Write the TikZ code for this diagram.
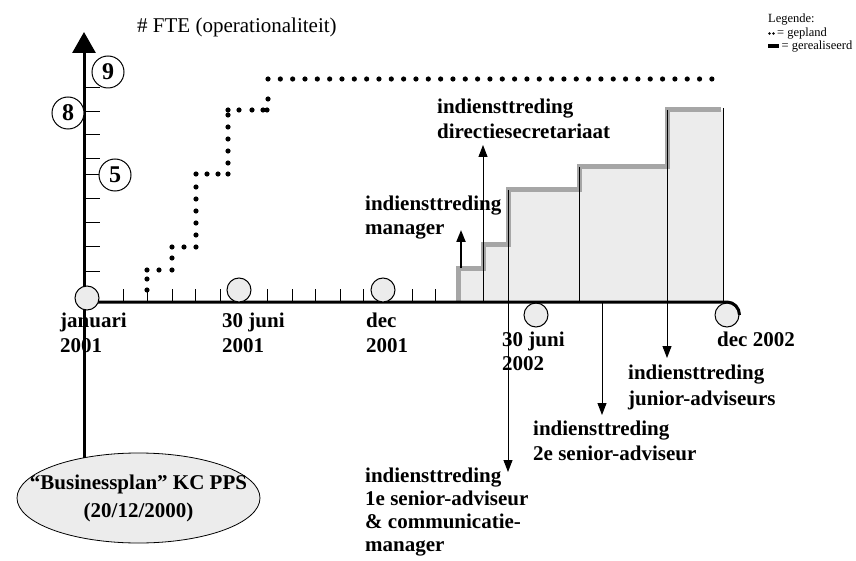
\documentclass[tikz,border=0pt]{standalone}
\usepackage{fontspec}
\setmainfont{Liberation Serif}
\usetikzlibrary{arrows.meta,shapes.geometric}
\begin{document}
\begin{tikzpicture}[x=1pt,y=-1pt,
  lbl/.style={font=\fontsize{21}{24}\selectfont\bfseries, align=left, anchor=north west, inner sep=0pt},
  numc/.style={circle, draw, line width=1pt, fill=white, minimum size=32pt, inner sep=0pt, font=\fontsize{24}{24}\selectfont\bfseries},
  datec/.style={circle, draw, line width=1pt, fill=gray!15, minimum size=24pt, inner sep=0pt},
  tickl/.style={line width=1pt},
  axisl/.style={line width=3pt},
  sepl/.style={line width=1pt},
  uparr/.style={line width=1pt, -{Triangle[width=9pt,length=12pt]}},
  dnarr/.style={line width=1pt, -{Triangle[width=9pt,length=12pt]}},
  barfill/.style={fill=gray!15},
  barrim/.style={draw=gray!70, line width=5pt, line join=miter},
  pdot/.style={fill=black}
]
\useasboundingbox (0,0) rectangle (856,561);

% ---- ellipse (business plan)
\node[ellipse, draw, line width=0.8pt, fill=gray!15, minimum width=243pt, minimum height=90pt, inner sep=0pt] (bp) at (138.5,498) {};
\node[font=\fontsize{21}{28}\selectfont\bfseries, align=center, inner sep=0pt] (bpt) at (bp.center) {“Businessplan” KC PPS\\(20/12/2000)};

% ---- realised bars
\fill[barfill] (458,302) rectangle (483,268);
\fill[barfill] (483,302) rectangle (508,245);
\fill[barfill] (508,302) rectangle (579,190);
\fill[barfill] (579,302) rectangle (667,167);
\fill[barfill] (667,302) rectangle (723,110);
\draw[barrim] (458,301) -- (458,268) -- (483,268) -- (483,245) -- (508,245) -- (508,190) -- (579,190) -- (579,167) -- (667,167) -- (667,110) -- (721,110);
\draw[sepl] (508,190) -- (508,302);
\draw[sepl] (579,167) -- (579,302);
\draw[sepl] (667,110) -- (667,302);
\draw[sepl] (723,108) -- (723,302);

% ---- axes
\coordinate (ybot) at (84,458);
\coordinate (ytop) at (84,32);
\coordinate (xstart) at (84,302);
\draw[axisl, -{Triangle[width=23pt,length=21pt]}] (ybot) -- (ytop);

\node[datec] (d02) at (727,315) {};
\node[datec] (j02) at (536,315) {};
\draw[axisl] (xstart) -- (727,302) to[out=0,in=90] (d02.east);

% x ticks
\foreach \x in {123,147,172,195,220,267,292,315,340,363,412,435}
  \draw[tickl] (\x,302) -- (\x,289);
% y ticks
\foreach \y in {271,247,223,199,175,159,135,112,88}
  \draw[tickl] (84,\y) -- (100,\y);

% date circles on axis
\node[datec] (o) at (87,298) {};
\node[datec] (j01) at (239,290) {};
\node[datec] (d01) at (383,290) {};

% number circles
\node[numc] (n9) at (108,72) {9};
\node[numc] (n8) at (68,113) {8};
\node[numc] (n5) at (115,175) {5};

% ---- planned (dotted)
\foreach \x/\y in {147/290,147/279,147/270,159/270,172/270,172/258,172/247,184/247,196/247,
  196/235,196/223,196/211,196/199,196/187,196/174,207/174,218/174,228/174,
  228/163,228/151,228/139,228/127,228/115,228/110,239/110,252/110,263/110,267/110,268/99}
  \fill[pdot] (\x,\y) circle (2.6pt);
\foreach \i in {0,...,36}
  \fill[pdot] (268+\i*12.33,79) circle (2.6pt);

% ---- arrows
\coordinate (amgrA) at (461,268);
\coordinate (amgrB) at (461,230);
\draw[uparr, line width=2pt] (amgrA) -- (amgrB);
\coordinate (adirA) at (483,302);
\coordinate (adirB) at (483,145);
\draw[uparr] (adirA) -- (adirB);
\coordinate (a1A) at (508,302);
\coordinate (a1B) at (508,472);
\draw[dnarr] (a1A) -- (a1B);
\coordinate (a2A) at (602,302);
\coordinate (a2B) at (602,415);
\draw[dnarr] (a2A) -- (a2B);
\coordinate (a3A) at (667,302);
\coordinate (a3B) at (667,358);
\draw[dnarr] (a3A) -- (a3B);

% ---- labels
\node[anchor=base west, font=\fontsize{21}{24}\selectfont, inner sep=0pt] (title) at (137,33) {\# FTE (operationaliteit)};
\node[lbl] (lmgr) at (365,196) {indiensttreding\\manager};
\node[lbl, font=\fontsize{21}{25}\selectfont\bfseries] (ldir) at (437,99) {indiensttreding\\directiesecretariaat};
\node[lbl, font=\fontsize{21}{25}\selectfont\bfseries] (ljan) at (60,313) {januari\\2001};
\node[lbl, font=\fontsize{21}{25}\selectfont\bfseries] (ljun1) at (222,313) {30 juni\\2001};
\node[lbl, font=\fontsize{21}{25}\selectfont\bfseries] (ldec1) at (366,313) {dec\\2001};
\node[lbl] (ljun2) at (502,332) {30 juni\\2002};
\node[lbl] (ldec2) at (717,332) {dec 2002};
\node[lbl, font=\fontsize{21}{26}\selectfont\bfseries] (ljun) at (628,365) {indiensttreding\\junior-adviseurs};
\node[lbl, font=\fontsize{21}{25}\selectfont\bfseries] (lsen2) at (533,421) {indiensttreding\\2e senior-adviseur};
\node[lbl, font=\fontsize{21}{23}\selectfont\bfseries] (lsen1) at (365,468) {indiensttreding\\1e senior-adviseur\\\& communicatie-\\manager};

% ---- legend
\node[anchor=base west, font=\fontsize{12.5}{13.5}\selectfont, inner sep=0pt] (leg) at (768,23) {Legende:};
\fill (769.5,33.5) circle (1.4pt);
\fill (773.5,33.5) circle (1.4pt);
\node[anchor=base west, font=\fontsize{12.5}{13.5}\selectfont, inner sep=0pt] (leg2) at (777,37) {= gepland};
\fill (768,44) rectangle (779,48.5);
\node[anchor=base west, font=\fontsize{12.5}{13.5}\selectfont, inner sep=0pt] (leg3) at (781.5,50) {= gerealiseerd};
\end{tikzpicture}
\end{document}
